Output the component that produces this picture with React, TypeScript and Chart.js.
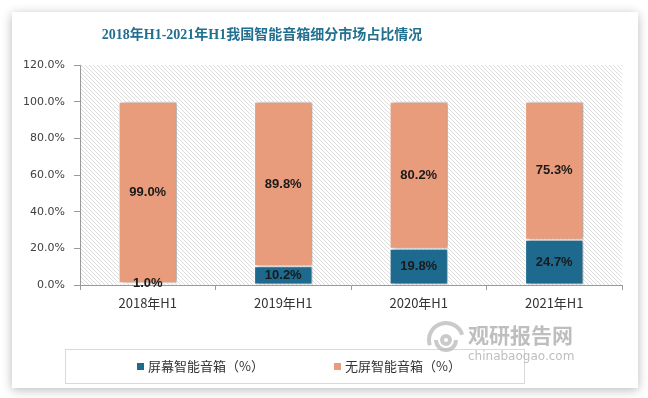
import React, { useEffect, useRef } from "react";
import { Chart, registerables } from "chart.js";

Chart.register(...registerables);

const categories = ["2018年H1", "2019年H1", "2020年H1", "2021年H1"];
const screenShare = [1.0, 10.2, 19.8, 24.7];
const noScreenShare = [99.0, 89.8, 80.2, 75.3];
const seriesNames = ["屏幕智能音箱（%）", "无屏智能音箱（%）"];
const yTicks = { min: 0, max: 120, step: 20 };
const titleText = "2018年H1-2021年H1我国智能音箱细分市场占比情况";

const BLUE = "#1d6a8e";
const ORANGE = "#e89c7b";

function makeHatch(): CanvasPattern | string {
  const c = document.createElement("canvas");
  c.width = 4;
  c.height = 4;
  const g = c.getContext("2d");
  if (!g) return "#fff";
  g.fillStyle = "#ffffff";
  g.fillRect(0, 0, 4, 4);
  g.fillStyle = "#dcdcdc";
  for (let i = 0; i < 4; i++) g.fillRect(i, i, 1, 1);
  const p = g.createPattern(c, "repeat");
  return p || "#fff";
}

const bgPlugin = {
  id: "bgPlugin",
  beforeDraw(chart: any) {
    const { ctx, width, height, chartArea } = chart;
    ctx.save();
    ctx.fillStyle = "#ffffff";
    ctx.fillRect(0, 0, width, height);
    ctx.shadowColor = "rgba(0,0,0,0.28)";
    ctx.shadowBlur = 10;
    ctx.shadowOffsetX = 0;
    ctx.shadowOffsetY = 2;
    ctx.fillRect(12, 12, 626, 376);
    ctx.restore();
    ctx.save();
    ctx.fillStyle = makeHatch();
    ctx.fillRect(chartArea.left, chartArea.top, chartArea.right - chartArea.left, chartArea.bottom - chartArea.top);
    ctx.restore();
    // title
    ctx.save();
    ctx.fillStyle = "#22708f";
    ctx.font = "bold 14px 'Liberation Serif', 'Noto Sans CJK SC', serif";
    ctx.textAlign = "center";
    ctx.textBaseline = "middle";
    ctx.fillText(titleText, 262, 35);
    ctx.restore();
  },
  beforeDatasetsDraw(chart: any) {
    const ctx = chart.ctx;
    ctx.save();
    ctx.shadowColor = "rgba(0,0,0,0.35)";
    ctx.shadowBlur = 4;
    ctx.shadowOffsetX = 3;
    ctx.shadowOffsetY = 0;
  },
  afterDatasetsDraw(chart: any) {
    chart.ctx.restore();
    const ctx = chart.ctx;
    // data labels
    ctx.save();
    ctx.font = "bold 13px 'Liberation Sans', Arial, sans-serif";
    ctx.fillStyle = "#1a1a1a";
    ctx.textAlign = "center";
    ctx.textBaseline = "middle";
    chart.data.datasets.forEach((ds: any, di: number) => {
      const meta = chart.getDatasetMeta(di);
      meta.data.forEach((bar: any, i: number) => {
        const v = ds.data[i];
        const cy = (bar.y + bar.base) / 2;
        ctx.fillText(v.toFixed(1) + "%", bar.x, cy);
      });
    });
    ctx.restore();
  },
  afterDraw(chart: any) {
    const ctx = chart.ctx;
    // legend
    ctx.save();
    ctx.strokeStyle = "#d9d9d9";
    ctx.lineWidth = 1;
    ctx.strokeRect(65.5, 349.5, 459, 34);
    ctx.font = "13px 'Noto Sans CJK SC', sans-serif";
    ctx.textBaseline = "middle";
    ctx.textAlign = "left";
    const xs = [137, 334];
    chart.data.datasets.forEach((ds: any, i: number) => {
      ctx.fillStyle = ds.backgroundColor;
      ctx.fillRect(xs[i], 363, 7, 7);
      ctx.fillStyle = "#333333";
      ctx.fillText(ds.label, xs[i] + 11, 366);
    });
    ctx.restore();
    // watermark
    ctx.save();
    ctx.globalAlpha = 0.75;
    ctx.strokeStyle = "#b8b8b8";
    ctx.lineWidth = 4;
    ctx.beginPath();
    ctx.arc(446, 340, 17, Math.PI * 0.9, Math.PI * 1.9);
    ctx.stroke();
    ctx.beginPath();
    ctx.arc(446, 340, 10, Math.PI * 0.0, Math.PI * 1.0);
    ctx.stroke();
    ctx.beginPath();
    ctx.arc(446, 340, 4, 0, Math.PI * 2);
    ctx.stroke();
    ctx.fillStyle = "#a8a8a8";
    ctx.font = "bold 21px 'Noto Sans CJK SC', sans-serif";
    ctx.textBaseline = "middle";
    ctx.textAlign = "left";
    ctx.fillText("观研报告网", 468, 335);
    ctx.font = "12px 'DejaVu Sans', sans-serif";
    ctx.fillText("chinabaogao.com", 468, 357);
    ctx.restore();
  },
};

export default function App() {
  const ref = useRef<HTMLCanvasElement | null>(null);
  useEffect(() => {
    document.body.style.margin = "0";
    if (!ref.current) return;
    const chart = new Chart(ref.current, {
      type: "bar",
      data: {
        labels: categories,
        datasets: [
          {
            label: seriesNames[0],
            data: screenShare,
            backgroundColor: BLUE,
            borderColor: "#ffffff",
            borderWidth: 1,
            borderSkipped: false,
            categoryPercentage: 0.86,
            barPercentage: 0.5,
          },
          {
            label: seriesNames[1],
            data: noScreenShare,
            backgroundColor: ORANGE,
            borderColor: "#ffffff",
            borderWidth: 1,
            borderSkipped: false,
            categoryPercentage: 0.86,
            barPercentage: 0.5,
          },
        ],
      },
      options: {
        animation: false,
        responsive: false,
        layout: { padding: { left: 0, right: 26, top: 65, bottom: 0 } },
        plugins: {
          legend: { display: false },
          title: { display: false },
          tooltip: { enabled: false },
        },
        scales: {
          x: {
            stacked: true,
            afterFit: (s: any) => {
              s.height = 113;
            },
            grid: {
              display: true,
              drawOnChartArea: false,
              drawTicks: true,
              tickLength: 5,
              color: "#9a9a9a",
              offset: true,
            },
            border: { display: true, color: "#9a9a9a" },
            ticks: {
              padding: 5,
              color: "#333333",
              font: { family: "'Noto Sans CJK SC', sans-serif", size: 13 },
            },
          },
          y: {
            stacked: true,
            min: yTicks.min,
            max: yTicks.max,
            afterFit: (s: any) => {
              s.width = 80;
            },
            grid: {
              display: true,
              drawOnChartArea: false,
              drawTicks: true,
              tickLength: 6,
              color: "#9a9a9a",
            },
            border: { display: true, color: "#9a9a9a" },
            ticks: {
              stepSize: yTicks.step,
              padding: 9,
              color: "#404040",
              font: { family: "'DejaVu Sans', sans-serif", size: 11 },
              callback: (v: any) => Number(v).toFixed(1) + "%",
            },
          },
        },
      },
      plugins: [bgPlugin],
    });
    return () => chart.destroy();
  }, []);
  return (
    <div style={{ width: 648, height: 398 }}>
      <canvas ref={ref} width={648} height={398} style={{ display: "block" }} />
    </div>
  );
}
